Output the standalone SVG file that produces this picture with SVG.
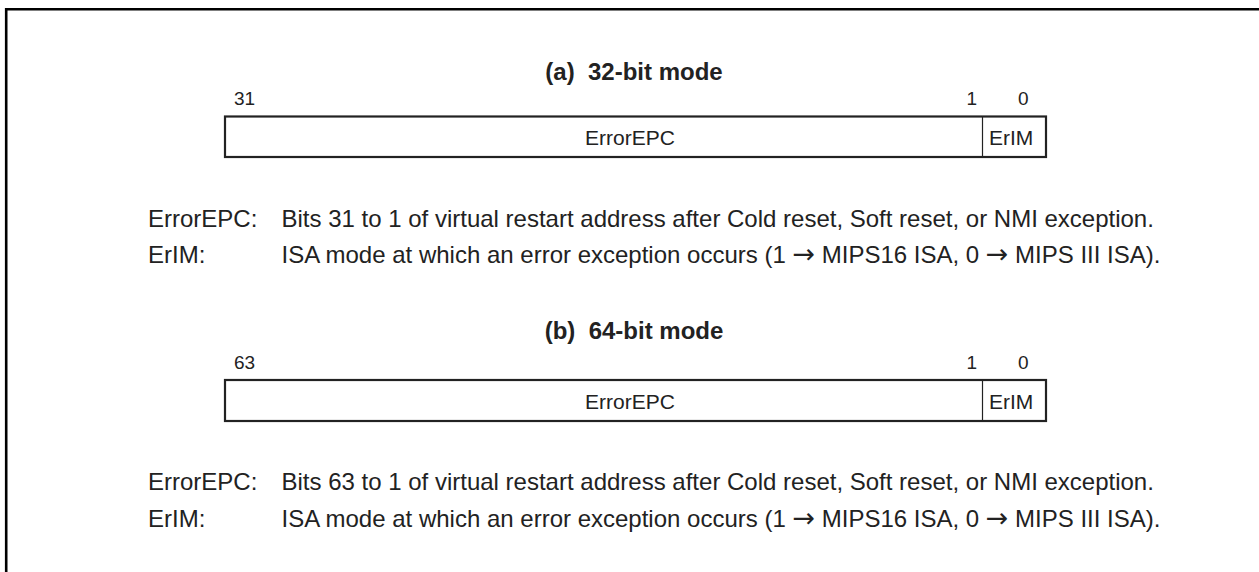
<svg xmlns="http://www.w3.org/2000/svg" width="1259" height="572" viewBox="0 0 1259 572">
<style>
text{font-family:"Liberation Sans",Arial,sans-serif;fill:#222;white-space:pre}
.t{font-weight:bold;font-size:24px;text-anchor:middle}
.n{font-size:19px}
.f{font-size:21px}
.d{font-size:24px}
.ar{font-family:"DejaVu Sans",sans-serif;font-size:27px}
.box{fill:#fff;stroke:#222;stroke-width:2.2}
.div{stroke:#222;stroke-width:1.2}
</style>
<rect width="1259" height="572" fill="#fff"/>
<path d="M6.2,572 V9.2 H1259" fill="none" stroke="#000" stroke-width="2.6"/>
<g id="reg32">
<text class="t" x="634" y="80">(a)  32-bit mode</text>
<text class="n" x="234" y="105">31</text>
<text class="n" x="977" y="105" text-anchor="end">1</text>
<text class="n" x="1018" y="105">0</text>
<rect class="box" x="225" y="116.5" width="821" height="40.5"/>
<line class="div" x1="982.5" y1="116.5" x2="982.5" y2="157"/>
<text class="f" x="630" y="145" text-anchor="middle">ErrorEPC</text>
<text class="f" x="989" y="145">ErIM</text>
</g>
<g id="desc32">
<text class="d" x="148" y="226.5">ErrorEPC:</text>
<text class="d" x="281.5" y="226.5">Bits 31 to 1 of virtual restart address after Cold reset, Soft reset, or NMI exception.</text>
<text class="d" x="148" y="263">ErIM:</text>
<text class="d" x="281.5" y="263">ISA mode at which an error exception occurs (1 <tspan class="ar">→</tspan> MIPS16 ISA, 0 <tspan class="ar">→</tspan> MIPS III ISA).</text>
</g>
<g id="reg64">
<text class="t" x="634" y="339">(b)  64-bit mode</text>
<text class="n" x="234" y="368.5">63</text>
<text class="n" x="977" y="368.5" text-anchor="end">1</text>
<text class="n" x="1018" y="368.5">0</text>
<rect class="box" x="225" y="380" width="821" height="41"/>
<line class="div" x1="982.5" y1="380" x2="982.5" y2="421"/>
<text class="f" x="630" y="408.5" text-anchor="middle">ErrorEPC</text>
<text class="f" x="989" y="408.5">ErIM</text>
</g>
<g id="desc64">
<text class="d" x="148" y="490">ErrorEPC:</text>
<text class="d" x="281.5" y="490">Bits 63 to 1 of virtual restart address after Cold reset, Soft reset, or NMI exception.</text>
<text class="d" x="148" y="526.5">ErIM:</text>
<text class="d" x="281.5" y="526.5">ISA mode at which an error exception occurs (1 <tspan class="ar">→</tspan> MIPS16 ISA, 0 <tspan class="ar">→</tspan> MIPS III ISA).</text>
</g>
<g id="connectors"/>
</svg>
